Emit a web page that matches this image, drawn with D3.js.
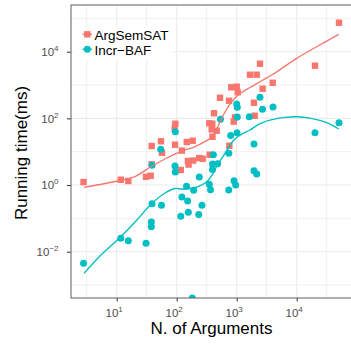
<!DOCTYPE html>
<html>
<head>
<meta charset="utf-8">
<script src="https://cdn.jsdelivr.net/npm/d3@7"></script>
<style>
	body { margin: 0; background: #fff; }
	text { font-family: "Liberation Sans", Arial, sans-serif; }
</style>
</head>
<body>
<div id="chart"></div>
<script>
// measured instances: number of arguments / running time in ms
let argsemsatArgs = [2.8, 11.7, 15.6, 30.8, 36.9, 38.3, 38.3, 54.7, 56.9, 93.7, 94.8, 92.6, 117, 122, 147, 185, 154, 158, 189, 238, 271, 355, 349, 392, 383, 464, 395, 419, 527, 745, 813, 1000, 1039, 937, 891, 754, 1666, 2154, 2444, 2710, 3981, 1940, 1995, 20180, 50700];
let argsemsatTime = [1.23, 1.44, 1.32, 1.77, 1.9, 4.18, 14.8, 20.5, 9.3, 16.2, 69, 50, 2.82, 10.8, 19.5, 21.3, 5.25, 4.12, 5.43, 6.46, 6.15, 8.1, 71, 69, 46.9, 42.6, 28.1, 142, 416, 338, 853, 890, 604, 107, 80, 15.1, 2040, 2040, 4360, 775, 1170, 295, 120, 3800, 74000];

let incrArgs = [2.8, 11.7, 15.6, 30.8, 37.8, 37.8, 38.8, 55.8, 38.8, 54.1, 94.8, 93.7, 94.8, 117, 122, 146, 152, 156, 192, 238, 233, 264, 349, 366, 395, 395, 482, 408, 738, 736, 902, 962, 1940, 2154, 537, 794, 1012, 1000, 1023, 1023, 1622, 1940, 2444, 2692, 4027, 20180, 50700, 182];
let incrTime = [0.00448, 0.0252, 0.0213, 0.0178, 0.0776, 0.0561, 0.275, 0.246, 3.9, 11.8, 39.7, 3.72, 2.45, 0.115, 0.436, 0.914, 0.331, 0.152, 0.693, 1.74, 0.13, 0.248, 1.05, 0.723, 4.27, 2.92, 4.36, 8.1, 9.0, 0.708, 1.35, 1.0, 2.69, 2.14, 93.5, 30.5, 37, 269, 214, 110, 112, 17, 428, 187, 219, 37, 74, 0.00041];

// smoothed trend lines
let argsemsatFitArgs = [2.85, 5.27, 11.35, 20.2, 38.8, 63.8, 93.7, 137, 189, 316, 387, 452, 527, 638, 773, 937, 1135, 1667, 2445, 4074, 10000, 21540, 50100];
let argsemsatFitTime = [0.853, 1.035, 1.365, 1.8, 3.72, 6.03, 8.51, 11.2, 13.5, 21.6, 27.5, 41.7, 77.6, 155, 269, 407, 556, 841, 1256, 2138, 6330, 14100, 33200];
let incrFitArgs = [2.85, 5.27, 11.35, 20.2, 38.8, 63.8, 93.7, 122, 167, 226, 316, 408, 488, 591, 716, 867, 1052, 1290, 1667, 2445, 4074, 6380, 10000, 16670, 31600, 50100];
let incrFitTime = [0.00224, 0.00741, 0.0266, 0.0776, 0.282, 0.575, 0.785, 0.759, 0.785, 0.902, 1.26, 2.29, 4.27, 7.16, 12.4, 20.9, 28.5, 35.6, 44.7, 70, 93.5, 107, 112, 102, 74, 47.9];

let seriesNames = ["ArgSemSAT", "Incr\u2212BAF"];
let seriesColors = ["#F8766D", "#00BFC4"];
let xTickPowers = [1, 2, 3, 4];
let yTickPowers = [-2, 0, 2, 4];
let xTitle = "N. of Arguments";
let yTitle = "Running time(ms)";

let svg, plot;
let xScaleLog, yScaleLog;
let width, height;

//
//	initD3
//
//
initD3 = function () {
	var margin = { top: 5, right: -1, bottom: 52, left: 71 };
	width = 351 - margin.left - margin.right;
	height = 350 - margin.top - margin.bottom;

	svg = d3
		.select("#chart")
		.append("svg")
		.attr("width", 351)
		.attr("height", 350)
		.style("display", "block");

	plot = svg
		.append("g")
		.attr("transform", "translate(" + margin.left + "," + margin.top + ")");

	plot
		.append("clipPath")
		.attr("id", "panelClip")
		.append("rect")
		.attr("width", width)
		.attr("height", height);

	xScaleLog = d3.scaleLog().domain([1.731, 83520]).range([0, width]);
	yScaleLog = d3.scaleLog().domain([0.000408, 251800]).range([height, 0]);
};

//
//	drawGrid
//
//
drawGrid = function () {
	let xMajor = xTickPowers.map((p) => Math.pow(10, p));
	let yMajor = yTickPowers.map((p) => Math.pow(10, p));
	let xMinor = [0].concat(xTickPowers).map((p) => Math.pow(10, p + 0.5));
	let yMinor = yTickPowers.map((p) => Math.pow(10, p - 1)).concat([Math.pow(10, 5)]);

	let grid = plot.append("g");
	grid.selectAll(".gx").data(xMinor.concat(xMajor)).enter().append("line")
		.attr("x1", (d) => xScaleLog(d)).attr("x2", (d) => xScaleLog(d))
		.attr("y1", 0).attr("y2", height)
		.attr("stroke", "#EBEBEB").attr("stroke-width", (d, i) => (i < xMinor.length ? 0.8 : 1.1));
	grid.selectAll(".gy").data(yMinor.concat(yMajor)).enter().append("line")
		.attr("y1", (d) => yScaleLog(d)).attr("y2", (d) => yScaleLog(d))
		.attr("x1", 0).attr("x2", width)
		.attr("stroke", "#EBEBEB").attr("stroke-width", (d, i) => (i < yMinor.length ? 0.8 : 1.1));
};

//
//	drawAxes
//
//
drawAxes = function () {
	let x = plot.append("g").attr("transform", "translate(0," + height + ")")
		.call(d3.axisBottom(xScaleLog)
			.tickValues(xTickPowers.map((p) => Math.pow(10, p)))
			.tickSize(3.5).tickPadding(5).tickFormat(""));
	x.select(".domain").remove();
	x.selectAll(".tick line").attr("stroke", "#333");
	x.selectAll(".tick").each(function (d, i) {
		let t = d3.select(this).append("text")
			.attr("y", 18.5).attr("x", -3)
			.attr("text-anchor", "middle")
			.attr("fill", "#4D4D4D")
			.style("font-size", "11.5px");
		t.append("tspan").text("10");
		t.append("tspan").attr("dy", -5).style("font-size", "8px").text(xTickPowers[i]);
	});

	let y = plot.append("g")
		.call(d3.axisLeft(yScaleLog)
			.tickValues(yTickPowers.map((p) => Math.pow(10, p)))
			.tickSize(4).tickFormat(""));
	y.select(".domain").remove();
	y.selectAll(".tick line").attr("stroke", "#333");
	y.selectAll(".tick").each(function (d, i) {
		let t = d3.select(this).append("text")
			.attr("x", -12.5).attr("y", 3.8)
			.attr("text-anchor", "end")
			.attr("fill", "#4D4D4D")
			.style("font-size", "11.5px");
		t.append("tspan").text("10");
		t.append("tspan").attr("dy", -5).style("font-size", "8px").text(String(yTickPowers[i]).replace("-", "\u2212"));
	});

	// panel border (right side runs past the picture)
	plot.append("rect")
		.attr("width", width).attr("height", height)
		.attr("fill", "none").attr("stroke", "#5f5f5f").attr("stroke-width", 1);

	svg.append("text")
		.attr("x", 71 + width / 2).attr("y", 333.5)
		.attr("text-anchor", "middle")
		.style("font-size", "17px")
		.text(xTitle);

	svg.append("text")
		.attr("transform", "translate(26.5," + (5 + height / 2 + 1.5) + ") rotate(-90)")
		.attr("text-anchor", "middle")
		.style("font-size", "17px")
		.text(yTitle);
};

//
//	drawSeries
//
//
drawSeries = function () {
	let marks = plot.append("g").attr("clip-path", "url(#panelClip)");

	let red = argsemsatArgs.map((n, i) => ({ n: n, t: argsemsatTime[i] }));
	marks.selectAll(".sq").data(red).enter().append("rect")
		.attr("x", (d) => xScaleLog(d.n) - 3.2)
		.attr("y", (d) => yScaleLog(d.t) - 3.2)
		.attr("width", 6.4).attr("height", 6.4)
		.attr("fill", seriesColors[0]);

	let teal = incrArgs.map((n, i) => ({ n: n, t: incrTime[i] }));
	marks.selectAll(".dot").data(teal).enter().append("circle")
		.attr("cx", (d) => xScaleLog(d.n))
		.attr("cy", (d) => yScaleLog(d.t))
		.attr("r", 3.5)
		.attr("fill", seriesColors[1]);

	let line = d3.line()
		.x((d) => xScaleLog(d[0]))
		.y((d) => yScaleLog(d[1]))
		.curve(d3.curveCatmullRom.alpha(0.5));

	marks.append("path")
		.datum(argsemsatFitArgs.map((n, i) => [n, argsemsatFitTime[i]]))
		.attr("d", line).attr("fill", "none")
		.attr("stroke", seriesColors[0]).attr("stroke-width", 1.35);
	marks.append("path")
		.datum(incrFitArgs.map((n, i) => [n, incrFitTime[i]]))
		.attr("d", line).attr("fill", "none")
		.attr("stroke", seriesColors[1]).attr("stroke-width", 1.35);
};

//
//	drawLegend
//
//
drawLegend = function () {
	let legend = svg.append("g").attr("transform", "translate(73,27)");
	legend.append("rect").attr("width", 100).attr("height", 33).attr("fill", "#fff");

	seriesNames.forEach((name, i) => {
		let row = legend.append("g").attr("transform", "translate(0," + (7.3 + i * 15) + ")");
		row.append("line").attr("x1", 9.5).attr("x2", 19).attr("stroke", seriesColors[i]).attr("stroke-width", 1.35);
		if (i == 0) {
			row.append("rect").attr("x", 14.3 - 3.2).attr("y", -3.2).attr("width", 6.4).attr("height", 6.4).attr("fill", seriesColors[i]);
		} else {
			row.append("circle").attr("cx", 14.3).attr("r", 3.5).attr("fill", seriesColors[i]);
		}
		row.append("text").attr("x", 21.5).attr("y", 5.2).style("font-size", "13.5px").text(name);
	});
};

initD3();
drawGrid();
drawSeries();
drawAxes();
drawLegend();
</script>
</body>
</html>
